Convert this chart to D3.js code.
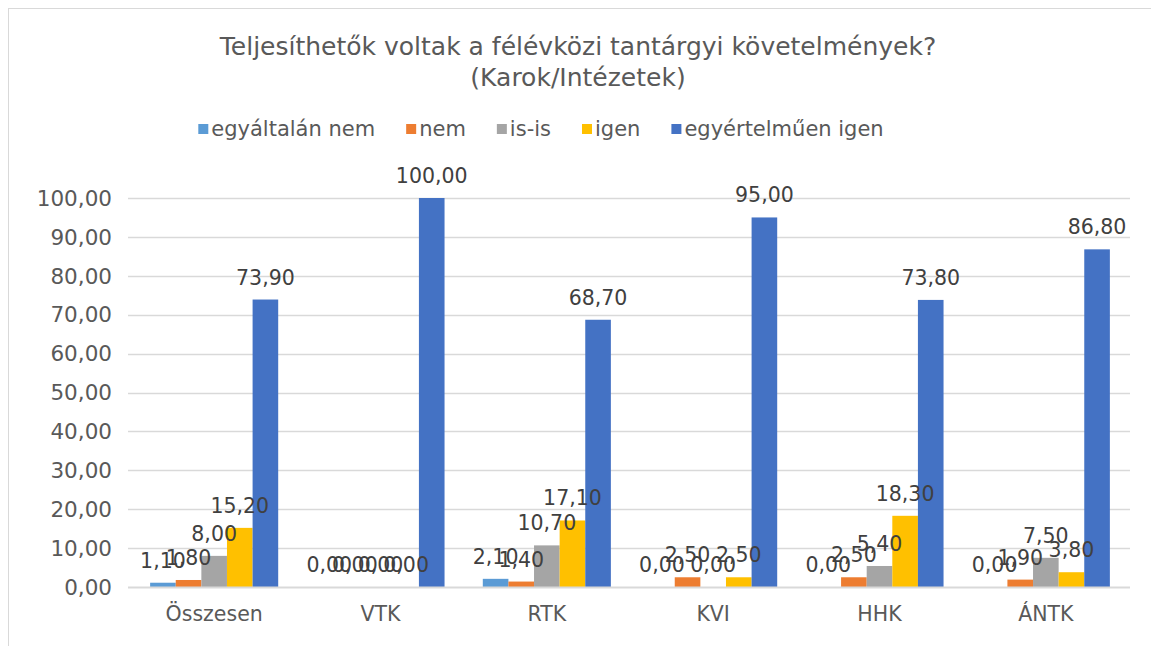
<!DOCTYPE html>
<html>
<head>
<meta charset="utf-8">
<script src="https://cdn.jsdelivr.net/npm/d3@7"></script>
<style>
  body { margin: 0; background: #fff; }
  svg { display: block; font-family: "DejaVu Sans", Verdana, sans-serif; }
</style>
</head>
<body>
<svg id="chart" width="1151" height="646"></svg>
<script>
const categories = ["Összesen", "VTK", "RTK", "KVI", "HHK", "ÁNTK"];
const seriesNames = ["egyáltalán nem", "nem", "is-is", "igen", "egyértelműen igen"];
const seriesColors = ["#5B9BD5", "#ED7D31", "#A5A5A5", "#FFC000", "#4472C4"];
const egyaltalanNem = [1.1, 0, 2.1, 0, 0, 0];
const nem = [1.8, 0, 1.4, 2.5, 2.5, 1.9];
const isIs = [8.0, 0, 10.7, 0, 5.4, 7.5];
const igen = [15.2, 0, 17.1, 2.5, 18.3, 3.8];
const egyertelmuenIgen = [73.9, 100, 68.7, 95, 73.8, 86.8];
const yTicks = [0, 10, 20, 30, 40, 50, 60, 70, 80, 90, 100];
const titleLines = ["Teljesíthetők voltak a félévközi tantárgyi követelmények?", "(Karok/Intézetek)"];

const seriesValues = [egyaltalanNem, nem, isIs, igen, egyertelmuenIgen];
const fmt = v => v.toFixed(2).replace(".", ",");

const svg = d3.select("#chart");

// chart border
svg.append("rect")
  .attr("x", 8.5).attr("y", 8.5)
  .attr("width", 1150).attr("height", 650)
  .attr("fill", "none").attr("stroke", "#d9d9d9");

// title
svg.append("text")
  .attr("x", 578).attr("text-anchor", "middle")
  .attr("fill", "#595959").attr("font-size", 25)
  .selectAll("tspan")
  .data(titleLines)
  .join("tspan")
  .attr("x", 578)
  .attr("y", (d, i) => 55 + i * 31)
  .text(d => d);

const x = d3.scaleBand().domain(categories).range([131, 1129]).paddingInner(0.23).paddingOuter(0.115);
const x1 = d3.scaleBand().domain(seriesNames).range([0, x.bandwidth()]);
const y = d3.scaleLinear().domain([0, 100]).range([587, 198]);

// gridlines
svg.append("g")
  .selectAll("line")
  .data(yTicks.filter(d => d > 0))
  .join("line")
  .attr("x1", 128).attr("x2", 1130)
  .attr("y1", d => Math.round(y(d)) + 0.5).attr("y2", d => Math.round(y(d)) + 0.5)
  .attr("stroke", "#d9d9d9").attr("stroke-width", 1.3);

// y tick labels
svg.append("g")
  .selectAll("text")
  .data(yTicks)
  .join("text")
  .attr("x", 112).attr("y", d => y(d))
  .attr("dy", "0.36em")
  .attr("text-anchor", "end")
  .attr("fill", "#595959").attr("font-size", 21.5)
  .text(fmt);

// bars
const groups = svg.append("g")
  .selectAll("g")
  .data(categories)
  .join("g")
  .attr("transform", d => `translate(${x(d)},0)`);

const barData = (c, ci) => seriesNames.map((s, si) => ({ s, si, v: seriesValues[si][ci] }));

groups.selectAll("rect")
  .data(barData)
  .join("rect")
  .attr("x", d => x1(d.s))
  .attr("width", x1.bandwidth())
  .attr("y", d => y(d.v))
  .attr("height", d => y(0) - y(d.v))
  .attr("fill", d => seriesColors[d.si]);

// axis line
svg.append("line")
  .attr("x1", 128).attr("x2", 1130)
  .attr("y1", y(0) + 0.5).attr("y2", y(0) + 0.5)
  .attr("stroke", "#d9d9d9").attr("stroke-width", 2);

// data labels
groups.selectAll("text")
  .data(barData)
  .join("text")
  .attr("x", d => x1(d.s) + x1.bandwidth() / 2)
  .attr("y", d => y(d.v) - 15)
  .attr("text-anchor", "middle")
  .attr("fill", "#404040").attr("font-size", 20.5)
  .text(d => fmt(d.v));

// category labels
svg.append("g")
  .selectAll("text")
  .data(categories)
  .join("text")
  .attr("x", d => x(d) + x.bandwidth() / 2)
  .attr("y", 621)
  .attr("text-anchor", "middle")
  .attr("fill", "#595959").attr("font-size", 20.5)
  .text(d => d);

// legend
const legend = svg.append("g");
const items = legend.selectAll("g")
  .data(seriesNames)
  .join("g");
items.append("rect")
  .attr("width", 10).attr("height", 10)
  .attr("y", 124)
  .attr("fill", (d, i) => seriesColors[i]);
items.append("text")
  .attr("x", 13).attr("y", 136)
  .attr("fill", "#595959").attr("font-size", 21)
  .text(d => d);
let offset = 0;
const pos = [];
items.each(function () {
  pos.push(offset);
  offset += 13 + this.querySelector("text").getComputedTextLength() + 31;
});
offset -= 31;
const startX = 541 - offset / 2;
items.attr("transform", (d, i) => `translate(${startX + pos[i]},0)`);
</script>
</body>
</html>
